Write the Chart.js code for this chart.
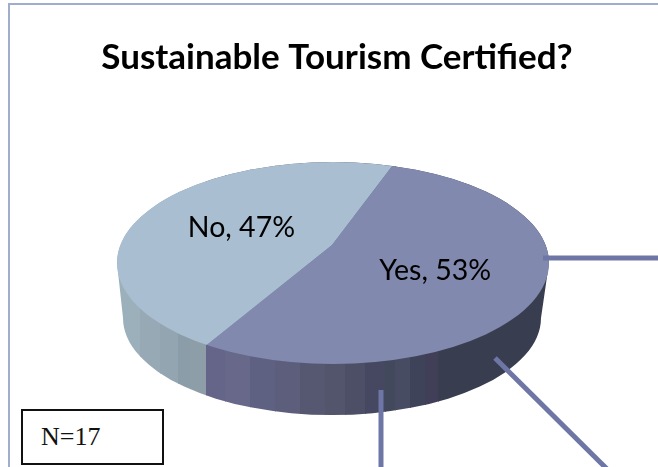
<!DOCTYPE html>
<html><head><meta charset="utf-8">
<script src="https://cdn.jsdelivr.net/npm/chart.js@4/dist/chart.umd.min.js"></script>
<style>
html,body{margin:0;padding:0;background:#fff;width:658px;height:467px;overflow:hidden}
#wrap{position:relative;width:658px;height:467px}
#frame{position:absolute;left:8px;top:3px;right:-4px;bottom:-4px;border:2px solid #A0AECB}
canvas{position:absolute;left:0;top:0}
#n{position:absolute;left:21px;top:409px;width:139px;height:52px;border:2px solid #111;background:#fff;
font:26px "Liberation Serif",serif;color:#111;line-height:30px;box-sizing:content-box}
#n span{position:absolute;left:18px;top:11px}
</style></head>
<body><div id="wrap"><div id="frame"></div><canvas id="c" width="658" height="467"></canvas><div id="n"><span>N=17</span></div></div>
<script>
const categories = ['Yes','No'];
const values = [53,47];
const sliceColors = ['#8189AE','#A9BFD1'];
const titleText = 'Sustainable Tourism Certified?';

// 3D pie projection
const apex={x:332,y:245}, tilt=0.47, screenR=300;
const topE={x:333,y:263,rx:216,ry:101}, botE={x:332,y:318,rx:209,ry:97};
const wallLeft=[[117,'#9CB0BC'],[140,'#96A9B5'],[160,'#92A5B1'],[178,'#8B9DA9'],[190,'#8D9EA9'],[206,'#889AA4']];
const wallRight=[[206,'#65658A'],[225,'#67688A'],[250,'#5F6183'],[275,'#5C5E7C'],[300,'#565872'],[325,'#52556C'],[345,'#4C4F66'],[365,'#454860'],[385,'#42495C'],[395,'#474C62'],[410,'#3F4359'],[425,'#413E58'],[438,'#383E50'],[549,'#383E50']];
const leaders=[[[543,258],[660,258]],[[495,358],[607,469]],[[381,390],[381,469]]];
const labelRadii=[114,100];

function band(ctx,stops,x0,x1){
  for(let i=0;i<stops.length-1;i++){
    const a=stops[i],b=stops[i+1];
    ctx.fillStyle=a[1];
    ctx.fillRect(Math.max(a[0],x0),0,Math.min(b[0],x1)-Math.max(a[0],x0)+1,467);
  }
}
const pie3d={
  id:'pie3d',
  beforeDatasetsDraw(chart){
    const ctx=chart.ctx, arc=chart.getDatasetMeta(0).data[0];
    ctx.save();
    ctx.beginPath();
    ctx.ellipse(botE.x,botE.y,botE.rx,botE.ry,0,Math.PI,0,true);
    ctx.lineTo(topE.x+topE.rx,topE.y);
    ctx.ellipse(topE.x,topE.y,topE.rx,topE.ry,0,0,-Math.PI,true);
    ctx.closePath();
    ctx.clip();
    band(ctx,wallLeft,100,206);
    band(ctx,wallRight,206,560);
    ctx.restore();
    ctx.save();
    ctx.beginPath();
    ctx.ellipse(topE.x,topE.y,topE.rx,topE.ry,0,0,Math.PI*2);
    ctx.clip();
    const s=screenR/arc.outerRadius;
    ctx.translate(apex.x,apex.y);
    ctx.scale(s,s*tilt);
    ctx.translate(-arc.x,-arc.y);
  },
  afterDatasetsDraw(chart){
    const ctx=chart.ctx;
    ctx.restore();
    ctx.strokeStyle='#6E76A6';ctx.lineWidth=5;ctx.lineCap='butt';
    leaders.forEach(l=>{ctx.beginPath();ctx.moveTo(l[0][0],l[0][1]);ctx.lineTo(l[1][0],l[1][1]);ctx.stroke();});
    ctx.fillStyle='#000';ctx.font='28.5px Lato';ctx.textAlign='center';ctx.textBaseline='middle';
    const total=values.reduce((a,b)=>a+b,0);
    chart.getDatasetMeta(0).data.forEach((arc,i)=>{
      const m=(arc.startAngle+arc.endAngle)/2;
      const x=apex.x+Math.cos(m)*labelRadii[i];
      const y=apex.y+Math.sin(m)*labelRadii[i]*tilt+3;
      ctx.fillText(categories[i]+', '+Math.round(values[i]/total*100)+'%',x,y);
    });
  }
};
new Chart(document.getElementById('c'),{
  type:'pie',
  data:{labels:categories,datasets:[{data:values,backgroundColor:sliceColors,borderWidth:0}]},
  options:{
    responsive:false,animation:false,rotation:19.7,
    layout:{padding:{left:16,top:37}},
    plugins:{
      legend:{display:false},tooltip:{enabled:false},
      title:{display:true,text:titleText,color:'#000',font:{family:'Lato',size:35,weight:'bold'},padding:0}
    }
  },
  plugins:[pie3d]
});
</script></body></html>
